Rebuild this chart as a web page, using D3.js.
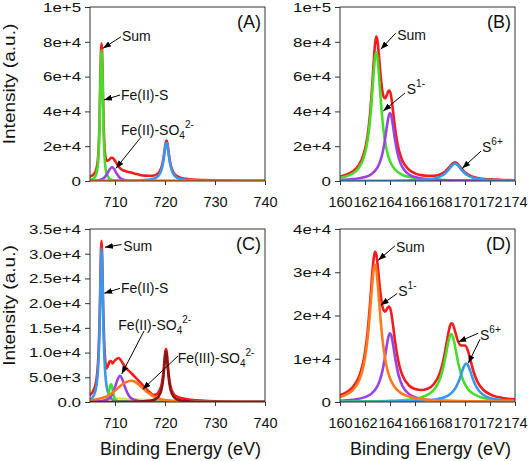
<!DOCTYPE html>
<html><head><meta charset="utf-8">
<script src="https://cdn.jsdelivr.net/npm/d3@7"></script>
<style>
body{margin:0;background:#fff}
svg{display:block}
text{font-family:"Liberation Sans",Arial,sans-serif;fill:#111}
</style>
</head><body>
<svg id="chart" width="529" height="461"></svg>
<script>
// ---------------- data ----------------
const feTicks = [710, 720, 730, 740];
const sTicks = [160, 162, 164, 166, 168, 170, 172, 174];
const yTicksAB = [0, 20000, 40000, 60000, 80000, 100000];
const yLabelsAB = ["0", "2e+4", "4e+4", "6e+4", "8e+4", "1e+5"];
const yTicksC = [0, 5000, 10000, 15000, 20000, 25000, 30000, 35000];
const yLabelsC = ["0.0", "5.0e+3", "1.0e+4", "1.5e+4", "2.0e+4", "2.5e+4", "3.0e+4", "3.5e+4"];
const yTicksD = [0, 10000, 20000, 30000, 40000];
const yLabelsD = ["0", "1e+4", "2e+4", "3e+4", "4e+4"];

// Panel A: Fe 2p
const A_sum = [[705,2540],[705.8,4000],[706.3,7180],[706.6,13000],[706.8,24200],[706.9,34300],[707.0,48500],[707.1,63650],[707.2,74800],[707.3,79000],[707.4,75200],[707.5,64450],[707.6,49700],[707.7,35950],[707.8,26200],[708.0,15900],[708.3,11700],[708.6,11800],[708.9,12400],[709.2,13300],[709.5,13400],[709.8,12450],[710.2,10700],[710.6,8750],[711,7400],[711.5,6300],[712,5750],[713,4990],[714,4220],[715,3500],[716,3100],[717,3000],[717.5,3025],[718.3,3750],[718.8,5030],[719.3,7980],[719.6,11535],[719.8,15120],[720.0,19390],[720.15,22110],[720.3,23200],[720.45,22060],[720.6,19290],[720.8,14920],[721.0,11185],[721.3,7510],[721.8,4380],[722.3,2940],[723.1,1875],[724.1,1225],[725.5,818],[728,476],[732,218],[736,110],[740,54]];
const A_feS = [[705,500],[705.8,1600],[706.3,4500],[706.6,10000],[706.8,21000],[706.9,31000],[707.0,45000],[707.1,60000],[707.2,71000],[707.3,75000],[707.4,71000],[707.5,60000],[707.6,45000],[707.7,31000],[707.8,21000],[708.0,10000],[708.3,4500],[708.8,1600],[709.3,700],[710.3,200],[712.3,50],[716,0],[740,0]];
const A_feSO4 = [[705,100],[706.4,300],[707.4,1000],[707.9,2000],[708.4,4000],[708.9,6500],[709.4,8000],[709.9,6500],[710.4,4000],[710.9,2000],[711.4,1000],[712.4,300],[713.4,100],[716,0],[740,0]];
const A_fe2p12 = [[705,40],[712,130],[715,300],[716.5,625],[717.5,1125],[718.3,2101],[718.8,3478],[719.3,6534],[719.6,10185],[719.8,13819],[720.0,18137],[720.15,20887],[720.3,22000],[720.45,20887],[720.6,18137],[720.8,13819],[721.0,10185],[721.3,6534],[721.8,3478],[722.3,2101],[723.1,1125],[724.1,625],[725.5,338],[728,156],[732,68],[740,24]];
const A_base = [[705,0],[740,0]];

// Panel B: S 2p
const B_sum = [[160,2552],[160.5,3578],[161,5394],[161.5,9079],[161.9,15573],[162.1,21611],[162.3,31345],[162.5,46925],[162.6,57300],[162.7,69000],[162.8,78500],[162.9,83000],[163.0,80500],[163.1,73300],[163.2,64700],[163.3,56800],[163.4,51300],[163.5,48300],[163.6,47500],[163.7,48500],[163.8,50500],[163.9,52000],[164.0,51500],[164.1,48200],[164.2,42800],[164.3,36600],[164.4,30700],[164.6,21426],[164.8,15432],[165.0,11549],[165.5,6588],[166,4414],[166.5,3370],[167,2933],[167.5,2993],[168,3762],[168.4,5369],[168.8,8423],[169.0,10068],[169.2,10767],[169.4,9962],[169.6,8209],[170.0,4928],[170.5,2759],[171,1760],[172,937],[173,608],[174,438]];
const B_s2 = [[160,1894],[160.5,2734],[161,4268],[161.5,7497],[161.9,13390],[162.1,18990],[162.3,28140],[162.5,42920],[162.6,52590],[162.7,62650],[162.8,70790],[162.9,74000],[163.0,70790],[163.1,62650],[163.2,52590],[163.3,42920],[163.5,28140],[163.7,18990],[163.9,13390],[164.1,9840],[164.4,6610],[164.9,3870],[165.4,2530],[165.9,1775],[166.9,1008],[167.9,649],[168.9,451],[170.9,254],[172.9,163],[174,133]];
const B_s1 = [[160,600],[161,1054],[162,2294],[162.5,3900],[163,7800],[163.2,10960],[163.4,15980],[163.6,23780],[163.7,28680],[163.8,33620],[163.9,37500],[164.0,39000],[164.1,37500],[164.2,33620],[164.3,28680],[164.4,23780],[164.6,15980],[164.8,10960],[165.0,7800],[165.5,3900],[166,2294],[167,1054],[168,600],[170,269],[172,152],[174,97]];
const B_s6 = [[160,58],[163,126],[165,270],[166.2,516],[167.2,1092],[167.7,1789],[168.2,3289],[168.4,4336],[168.6,5765],[168.8,7538],[169.0,9245],[169.2,10000],[169.4,9245],[169.6,7538],[169.8,5765],[170.0,4336],[170.2,3289],[170.7,1789],[171.2,1092],[172.2,516],[173.2,297],[174,208]];

// Panel C: Fe 2p
const C_sum = [[705,1400],[705.8,2600],[706.3,4600],[706.6,7900],[706.8,12500],[706.9,16000],[707.0,20500],[707.1,26000],[707.2,30800],[707.3,32600],[707.4,30800],[707.5,26300],[707.6,21000],[707.7,16700],[707.8,13300],[708.0,9000],[708.3,6800],[708.6,7300],[708.9,8200],[709.2,8300],[709.5,7800],[709.8,8200],[710.2,8600],[710.7,8900],[711.2,8400],[711.7,7600],[712.2,6900],[713,6100],[714,5100],[715,4000],[716,2900],[717,1900],[717.7,1400],[718.3,1500],[718.7,2000],[719.2,3100],[719.5,4500],[719.7,6200],[719.9,8500],[720.05,10200],[720.2,10700],[720.35,10100],[720.5,8400],[720.7,6000],[720.9,4300],[721.2,2800],[721.7,1700],[722.2,1200],[723.2,800],[725.2,450],[728,250],[732,120],[736,60],[740,30]];
const C_feS = [[705,450],[705.8,1400],[706.3,3300],[706.6,6500],[706.8,11000],[706.9,14500],[707.0,19000],[707.1,24500],[707.2,29000],[707.3,31000],[707.4,29000],[707.5,24500],[707.6,19000],[707.7,14500],[707.8,11000],[708.0,6500],[708.3,3300],[708.8,1400],[709.3,650],[709.8,350],[710.3,200],[712.3,50],[716,10],[740,0]];
const C_minor = [[705,0],[708.0,200],[708.4,600],[708.7,1500],[708.9,2600],[709.05,3300],[709.2,3600],[709.35,3300],[709.5,2600],[709.7,1500],[710.0,600],[710.4,200],[711,50],[712,0],[740,0]];
const C_feSO4 = [[705,50],[707,150],[708,350],[709,900],[709.5,1700],[710,3000],[710.5,4500],[711,5300],[711.5,4500],[712,3000],[712.5,1800],[713,1000],[714,400],[715,150],[717,50],[720,0],[740,0]];
const C_fe3SO4 = [[705,350],[706,500],[707,700],[708,1000],[709,1500],[710,2300],[711,3200],[712,3900],[713.2,4300],[714,4100],[715,3300],[716,2400],[717,1600],[718,1000],[719,600],[720,400],[722,200],[725,100],[730,40],[740,10]];
const C_fe2p12 = [[705,5],[712,40],[715,100],[717.2,297],[718.2,646],[718.7,1094],[719.2,2170],[719.5,3626],[719.7,5300],[719.9,7650],[720.05,9416],[720.2,10200],[720.35,9416],[720.5,7650],[720.7,5300],[720.9,3626],[721.2,2170],[721.7,1094],[722.2,646],[723.2,297],[725.2,109],[730.2,27],[735,12],[740,7]];
const C_broad = [[705,0],[707,100],[708,300],[709,600],[710,750],[711,700],[713,550],[715,450],[718,350],[721,250],[724,150],[727,80],[730,30],[735,10],[740,0]];

// Panel D: S 2p
const D_sum = [[160,1593],[160.5,2231],[161,3375],[161.5,5717],[161.8,8481],[162.0,11486],[162.2,16040],[162.4,22631],[162.6,30358],[162.7,33340],[162.8,34706],[162.9,34121],[163.0,31955],[163.2,26116],[163.4,22035],[163.6,20895],[163.8,21753],[163.9,22091],[164.0,21774],[164.1,20590],[164.2,18684],[164.4,14182],[164.6,10440],[164.8,7850],[165.0,6124],[165.5,3874],[166,2997],[166.5,2773],[167,3072],[167.5,4119],[168.0,6806],[168.3,10073],[168.6,14857],[168.8,17587],[168.9,18172],[169.0,18078],[169.2,16404],[169.4,14367],[169.6,13223],[169.8,13061],[170.0,13073],[170.2,12133],[170.4,10102],[170.7,6878],[171.0,4663],[171.5,2715],[172,1781],[173,944],[174,615]];
const D_s1a = [[160,1178],[160.5,1714],[161,2707],[161.5,4812],[161.8,7362],[162.0,10173],[162.2,14475],[162.4,20733],[162.5,24432],[162.6,28000],[162.7,30687],[162.8,31700],[162.9,30687],[163.0,28000],[163.1,24432],[163.2,20733],[163.4,14475],[163.6,10173],[163.8,7362],[164.0,5503],[164.3,3756],[164.8,2229],[165.3,1463],[165.8,1031],[166.8,588],[167.8,379],[168.8,264],[170.8,149],[172.8,96],[174,76]];
const D_s1b = [[160,295],[161,517],[162,1118],[162.5,1884],[163,3693],[163.2,5103],[163.4,7260],[163.6,10400],[163.7,12255],[163.8,14045],[163.9,15392],[164.0,15900],[164.1,15392],[164.2,14045],[164.3,12255],[164.4,10400],[164.6,7260],[164.8,5103],[165.0,3693],[165.5,1884],[166,1118],[167,517],[168,295],[170,132],[172,75],[174,48]];
const D_s6a = [[160,83],[162,138],[164,271],[165.4,523],[166.4,994],[167.1,1811],[167.6,3140],[167.9,4663],[168.1,6243],[168.3,8477],[168.5,11387],[168.7,14342],[168.9,15700],[169.1,14342],[169.3,11387],[169.5,8477],[169.7,6243],[169.9,4663],[170.2,3140],[170.6,2003],[171.4,994],[172.4,523],[174,251]];
const D_s6b = [[160,37],[163,74],[165,142],[166.6,297],[167.6,564],[168.3,1026],[168.8,1780],[169.1,2643],[169.3,3539],[169.5,4806],[169.7,6455],[169.9,8130],[170.1,8900],[170.3,8130],[170.5,6455],[170.7,4806],[170.9,3539],[171.1,2643],[171.4,1780],[171.8,1135],[172.6,564],[174,240]];

// ---------------- style ----------------
const COL = {red:"#f51c1c", green:"#47dc2a", purple:"#9b42e6", blue:"#3a97ee", orange:"#ff7a1f", brown:"#8a1616", yellow:"#d4e85c"};

const panels = [
  {tag:"(A)", x0:90, y0:7, w:175, h:174, xd:[705,740], xt:feTicks, yd:[0,100000], yt:yTicksAB, yl:yLabelsAB,
   series:[[A_sum,COL.red],[A_feS,COL.green],[A_feSO4,COL.purple],[A_fe2p12,COL.blue],[A_base,COL.orange]],
   notes:[
     {seg:[["Sum"]], at:[711.4,80200], arrows:[[711.2,82900,707.6,76300]]},
     {seg:[["Fe(II)-S"]], at:[711.2,46300], arrows:[[711.0,49400,707.8,46600]]},
     {seg:[["Fe(II)-SO"],["4","sub"],["2-","sup"]], at:[711.2,26400], arrows:[[715.0,24500,710.2,7300]]}
   ], ytitle:true, xtitle:false},
  {tag:"(B)", x0:340, y0:7, w:175, h:174, xd:[160,174], xt:sTicks, yd:[0,100000], yt:yTicksAB, yl:yLabelsAB,
   series:[[B_sum,COL.red],[B_s2,COL.green],[B_s1,COL.purple],[B_s6,COL.blue]],
   notes:[
     {seg:[["Sum"]], at:[164.58,81300], arrows:[[164.45,84900,163.26,75700]]},
     {seg:[["S"],["1-","sup"]], at:[165.34,50000], arrows:[[165.2,50600,163.46,40200]]},
     {seg:[["S"],["6+","sup"]], at:[171.36,16400], arrows:[[171.28,17200,169.78,7300]]}
   ], ytitle:false, xtitle:false},
  {tag:"(C)", x0:90, y0:229, w:175, h:173, xd:[705,740], xt:feTicks, yd:[0,35000], yt:yTicksC, yl:yLabelsC,
   series:[[C_sum,COL.red],[C_broad,COL.yellow],[C_feS,COL.blue],[C_minor,COL.green],[C_feSO4,COL.purple],[C_fe3SO4,COL.orange],[C_fe2p12,COL.brown]],
   notes:[
     {seg:[["Sum"]], at:[711.66,30650], arrows:[[711.3,31860,708.0,31300]]},
     {seg:[["Fe(II)-S"]], at:[711.2,22050], arrows:[[711.0,23000,707.86,22000]]},
     {seg:[["Fe(II)-SO"],["4","sub"],["2-","sup"]], at:[710.66,14570], arrows:[[715.8,14360,711.34,5660]]},
     {seg:[["Fe(III)-SO"],["4","sub"],["2-","sup"]], at:[722.54,7990], arrows:[[722.6,9310,715.54,2570]]}
   ], ytitle:true, xtitle:true},
  {tag:"(D)", x0:340, y0:229, w:175, h:173, xd:[160,174], xt:sTicks, yd:[0,40000], yt:yTicksD, yl:yLabelsD,
   series:[[D_sum,COL.red],[D_s1b,COL.purple],[D_s6a,COL.green],[D_s6b,COL.blue],[D_s1a,COL.orange]],
   notes:[
     {seg:[["Sum"]], at:[164.48,34700], arrows:[[164.4,36100,163.06,32800]]},
     {seg:[["S"],["1-","sup"]], at:[164.66,24400], arrows:[[164.58,25100,163.26,22400]]},
     {seg:[["S"],["6+","sup"]], at:[171.2,14300], arrows:[[171.06,15900,169.46,13900],[171.2,14500,170.26,8950]]}
   ], ytitle:false, xtitle:true}
];

// ---------------- drawing ----------------
const svg = d3.select("#chart");
const defs = svg.append("defs");
defs.append("marker").attr("id","ah").attr("viewBox","0 0 8 6")
  .attr("refX",8).attr("refY",3).attr("markerWidth",8).attr("markerHeight",6)
  .attr("markerUnits","userSpaceOnUse").attr("orient","auto")
  .append("path").attr("d","M0,0L8,3L0,6Z").attr("fill","#000");

const YSCALE = 1.25;

panels.forEach((p, pi) => {
  const g = svg.append("g").attr("transform", `translate(${p.x0},${p.y0})`);
  const x = d3.scaleLinear().domain(p.xd).range([0, p.w]);
  const y = d3.scaleLinear().domain(p.yd).range([p.h, 0]);

  const clipId = "clip" + pi;
  defs.append("clipPath").attr("id", clipId).append("rect")
    .attr("x", 0).attr("y", -3).attr("width", p.w).attr("height", p.h + 3);

  const line = d3.line().x(d => x(d[0])).y(d => y(d[1])).curve(d3.curveMonotoneX);
  const plot = g.append("g").attr("clip-path", `url(#${clipId})`);
  p.series.forEach(([data, color]) => {
    plot.append("path").datum(data).attr("d", line)
      .attr("fill", "none").attr("stroke", color).attr("stroke-width", 2.6)
      .attr("stroke-linejoin", "round").attr("stroke-linecap", "round");
  });

  // frame
  g.append("rect").attr("x",0).attr("y",0).attr("width",p.w).attr("height",p.h)
    .attr("fill","none").attr("stroke","#333").attr("stroke-width",1);

  // y axis
  const ya = g.append("g").call(d3.axisLeft(y).tickValues(p.yt)
      .tickFormat((d,i) => p.yl[i]).tickSize(5).tickPadding(4));
  ya.select(".domain").remove();
  ya.selectAll(".tick line").attr("stroke","#333");
  ya.selectAll(".tick text").attr("font-size",13.5).attr("font-family",null)
    .attr("fill","#111").attr("x", -9 / YSCALE).attr("transform", `scale(${YSCALE},1)`);

  // x axis
  const xa = g.append("g").attr("transform", `translate(0,${p.h})`)
    .call(d3.axisBottom(x).tickValues(p.xt).tickFormat(d3.format("d")).tickSize(4).tickPadding(12));
  xa.select(".domain").remove();
  xa.selectAll(".tick line").attr("stroke","#333");
  xa.selectAll(".tick text").attr("font-size",14.5).attr("font-family",null).attr("fill","#111");

  // panel tag
  g.append("text").attr("x", p.w - 4).attr("y", 21).attr("text-anchor","end")
    .attr("font-size", 18).text(p.tag);

  // annotations
  p.notes.forEach(n => {
    n.arrows.forEach(a => {
      g.append("line").attr("x1", x(a[0])).attr("y1", y(a[1]))
        .attr("x2", x(a[2])).attr("y2", y(a[3]))
        .attr("stroke","#000").attr("stroke-width",1).attr("marker-end","url(#ah)");
    });
    const t = g.append("text").attr("x", x(n.at[0])).attr("y", y(n.at[1])).attr("font-size", 14);
    let shift = 0;
    n.seg.forEach(([s, kind]) => {
      let target = 0;
      if (kind === "sub") target = 4;
      if (kind === "sup") target = -7;
      const ts = t.append("tspan").text(s).attr("dy", target - shift);
      if (kind) ts.attr("font-size", 10);
      shift = target;
    });
  });

  if (p.ytitle) {
    g.append("text").attr("transform", `translate(${9 - p.x0},${p.h/2 - 10}) rotate(-90) scale(1.12,1)`)
      .attr("text-anchor","middle").attr("dominant-baseline","central")
      .attr("font-size", 17).text("Intensity (a.u.)");
  }
  if (p.xtitle) {
    g.append("text").attr("x", p.w/2 + 3).attr("y", 455 - p.y0)
      .attr("text-anchor","middle").attr("font-size", 18).text("Binding Energy (eV)");
  }
});
</script>
</body></html>
